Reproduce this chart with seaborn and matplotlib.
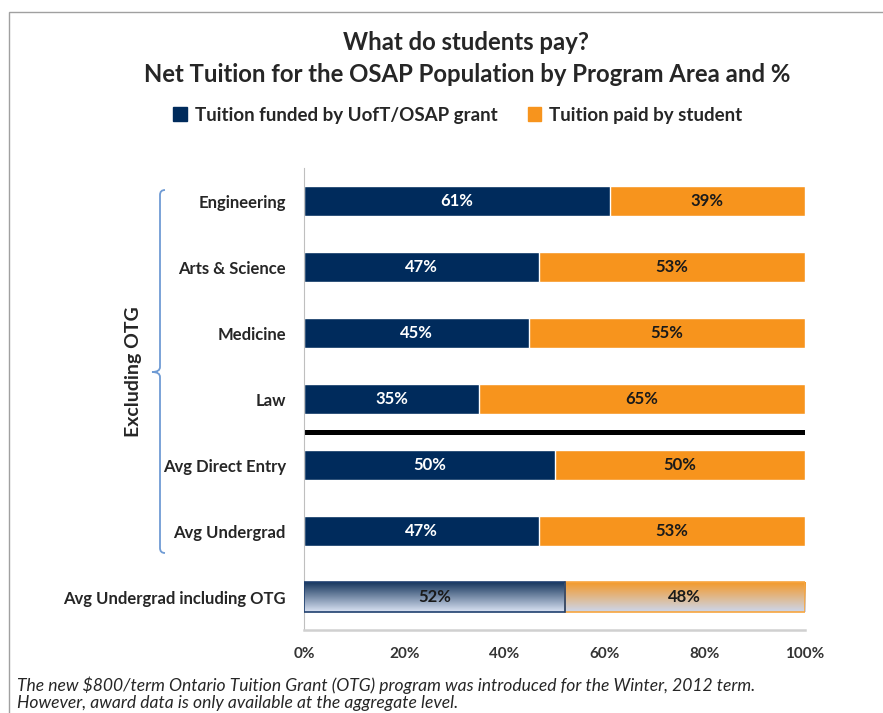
import matplotlib
matplotlib.use('Agg')
import matplotlib.pyplot as plt
import matplotlib.patches as mpatches
from matplotlib.path import Path
from matplotlib.colors import to_rgb
import numpy as np
import pandas as pd
import seaborn as sns

# dados
areas = ['Engineering', 'Arts & Science', 'Medicine', 'Law',
         'Avg Direct Entry', 'Avg Undergrad', 'Avg Undergrad including OTG']
grant = [61, 47, 45, 35, 50, 47, 52]
paid = [39, 53, 55, 65, 50, 53, 48]
serie_nomes = ['Tuition funded by UofT/OSAP grant', 'Tuition paid by student']
xticks = [0, 20, 40, 60, 80, 100]

NAVY = '#002b5c'
ORANGE = '#f7941d'

df = pd.DataFrame({'area': areas, 'grant': grant, 'paid': paid})
df['total'] = df['grant'] + df['paid']

sns.set_style('white')
plt.rcParams['font.family'] = ['Lato', 'DejaVu Sans']

W, H = 883, 713
fig = plt.figure(figsize=(W / 100, H / 100), dpi=100)


def fx(px):
    return px / W


def fy(py):
    return 1 - py / H


ax = fig.add_axes([fx(304), fy(630), fx(805) - fx(304), fy(168) - fy(630)])

sns.barplot(data=df, y='area', x='total', color=ORANGE, orient='h',
            width=0.45, saturation=1, errorbar=None, ax=ax)
sns.barplot(data=df, y='area', x='grant', color=NAVY, orient='h',
            width=0.45, saturation=1, errorbar=None, ax=ax)

n = len(areas)
orange_bars = ax.patches[:n]
navy_bars = ax.patches[n:2 * n]

# ultima linha com gradiente (inclui OTG)
last = n - 1
ob = orange_bars[last]
ob.set_x(grant[last])
ob.set_width(paid[last])


def gradiente(patch, c_top, c_bot, edge):
    x0 = patch.get_x()
    x1 = x0 + patch.get_width()
    y0 = patch.get_y()
    y1 = y0 + patch.get_height()
    t = np.linspace(0, 1, 64)[:, None]
    img = (1 - t) * np.array(to_rgb(c_top)) + t * np.array(to_rgb(c_bot))
    img = img[:, None, :]
    ax.imshow(img, extent=(x0, x1, y1, y0), origin='upper', aspect='auto',
              zorder=3)
    patch.set_facecolor('none')
    patch.set_edgecolor(edge)
    patch.set_linewidth(1.2)
    patch.set_zorder(4)


gradiente(navy_bars[last], '#17375e', '#d9e2f3', '#1f3f6e')
gradiente(ob, '#f39a2b', '#ccd6ec', '#f7a640')

# rotulos
for i in range(n):
    cor_g = 'white' if i < last else '#1a1a1a'
    ax.text(grant[i] / 2, i, f'{grant[i]}%', ha='center', va='center',
            color=cor_g, fontsize=12, fontweight='bold', zorder=5)
    ax.text(grant[i] + paid[i] / 2, i, f'{paid[i]}%', ha='center',
            va='center', color='#1a1a1a', fontsize=12, fontweight='bold',
            zorder=5)

ax.axhline(3.5, color='black', lw=3.6, zorder=2)

ax.set_xlim(0, 100)
ax.set_ylim(n - 0.5, -0.5)
ax.set_xticks(xticks)
ax.set_xticklabels([f'{v}%' for v in xticks])
ax.set_xlabel('')
ax.set_ylabel('')
ax.tick_params(axis='x', length=0, pad=12, labelsize=11, labelcolor='#333333')
ax.tick_params(axis='y', length=0, pad=13, labelsize=12)
for lab in ax.get_xticklabels() + ax.get_yticklabels():
    lab.set_fontweight('bold')
for s in ['top', 'right']:
    ax.spines[s].set_visible(False)
ax.spines['left'].set_color('#bfbfbf')
ax.spines['bottom'].set_color('#d0d0d0')
ax.spines['bottom'].set_linewidth(1.8)

# titulo e legenda
fig.text(fx(466), fy(42), 'What do students pay?', ha='center', va='center',
         fontsize=17.2, fontweight='bold')
fig.text(fx(467), fy(75), 'Net Tuition for the OSAP Population by Program Area and %',
         ha='center', va='center', fontsize=17.2, fontweight='bold')
handles = [mpatches.Patch(color=NAVY), mpatches.Patch(color=ORANGE)]
leg = fig.legend(handles, serie_nomes, loc='center', ncol=2,
                 bbox_to_anchor=(fx(458), fy(115)), frameon=False,
                 handlelength=0.7, handleheight=0.7, handletextpad=0.45,
                 columnspacing=1.6, prop={'size': 13.5, 'weight': 'bold'})

# chave "Excluding OTG"
bx, tip = 160, 152
ytop, ymid, ybot = 190, 372, 553
verts = [(bx + 5, ytop), (bx, ytop), (bx, ytop + 5),
         (bx, ymid - 5),
         (bx, ymid), (tip, ymid),
         (bx, ymid), (bx, ymid + 5),
         (bx, ybot - 5),
         (bx, ybot), (bx + 5, ybot)]
codes = [Path.MOVETO, Path.CURVE3, Path.CURVE3,
         Path.LINETO,
         Path.CURVE3, Path.CURVE3,
         Path.CURVE3, Path.CURVE3,
         Path.LINETO,
         Path.CURVE3, Path.CURVE3]
brace = Path([(fx(a), fy(b)) for a, b in verts], codes)
fig.add_artist(mpatches.PathPatch(brace, fill=False, edgecolor='#6f9bd4',
                                  lw=1.3, transform=fig.transFigure))
fig.text(fx(133), fy(372), 'Excluding OTG', rotation=90, ha='center',
         va='center', fontsize=14, fontweight='bold')

# nota de rodape
fig.text(fx(17), fy(685), 'The new $800/term Ontario Tuition Grant (OTG) program was '
         'introduced for the Winter, 2012 term.', ha='left', va='center',
         fontsize=12.6, style='italic')
fig.text(fx(17), fy(703), 'However, award data is only available at the aggregate level.',
         ha='left', va='center', fontsize=12.6, style='italic')

# moldura
fig.add_artist(mpatches.Rectangle((fx(9), fy(730)), fx(900) - fx(9), fy(12) - fy(730),
                                  fill=False, edgecolor='#a0a0a0', lw=1,
                                  transform=fig.transFigure))

fig.savefig('out.png', dpi=100)
